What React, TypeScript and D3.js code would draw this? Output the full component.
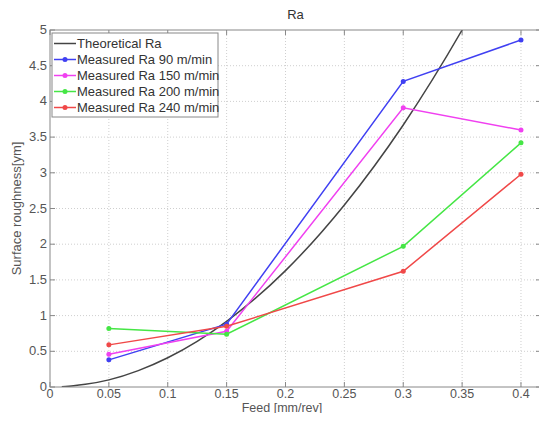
import React, { useEffect, useRef } from 'react';
import * as d3 from 'd3';

const feeds = [0.05, 0.15, 0.3, 0.4];
const ra90 = [0.38, 0.88, 4.28, 4.86];
const ra150 = [0.46, 0.78, 3.91, 3.6];
const ra200 = [0.82, 0.74, 1.97, 3.42];
const ra240 = [0.59, 0.85, 1.62, 2.98];

// theoretical curve
const theoFeed = [0.01, 0.02, 0.03, 0.05, 0.075, 0.1, 0.125, 0.15, 0.2, 0.25, 0.3, 0.35, 0.36];
const theoRa = [0.004, 0.016, 0.037, 0.1, 0.23, 0.41, 0.64, 0.92, 1.63, 2.55, 3.67, 5.0, 5.29];

const xTicks = [0, 0.05, 0.1, 0.15, 0.2, 0.25, 0.3, 0.35, 0.4];
const yTicks = [0, 0.5, 1, 1.5, 2, 2.5, 3, 3.5, 4, 4.5, 5];

const series = [
  { name: 'Measured Ra 90 m/min', values: ra90, color: '#4040f2' },
  { name: 'Measured Ra 150 m/min', values: ra150, color: '#f040f0' },
  { name: 'Measured Ra 200 m/min', values: ra200, color: '#45e645' },
  { name: 'Measured Ra 240 m/min', values: ra240, color: '#f04848' },
];

const App = () => {
  const ref = useRef<SVGSVGElement>(null);

  useEffect(() => {
    const width = 547;
    const height = 421;
    // the bottom ~9px of the window is not photographed, so the plot sits a bit higher
    const m = { left: 50, right: 6, top: 30, bottom: 34 };
    const font = 'Liberation Sans, Arial, sans-serif';
    const textColor = '#555';

    const x = d3.scaleLinear().domain([0, 0.417]).range([m.left, width - m.right]);
    const y = d3.scaleLinear().domain([0, 5]).range([height - m.bottom, m.top]);

    const svg = d3.select(ref.current)
      .attr('width', width)
      .attr('height', height)
      .style('display', 'block')
      .style('background', '#fff');

    svg.selectAll('*').remove();

    svg.append('defs').append('clipPath').attr('id', 'plot')
      .append('rect')
      .attr('x', m.left).attr('y', m.top)
      .attr('width', width - m.left - m.right)
      .attr('height', height - m.top - m.bottom);

    // grid
    const grid = svg.append('g').attr('stroke', '#cfcfcf').attr('stroke-dasharray', '1,2').attr('stroke-width', 1);
    xTicks.slice(1).forEach(t => {
      grid.append('line').attr('x1', x(t)).attr('x2', x(t)).attr('y1', y(0)).attr('y2', y(5));
    });
    yTicks.slice(1, -1).forEach(t => {
      grid.append('line').attr('x1', x(0)).attr('x2', x(0.417)).attr('y1', y(t)).attr('y2', y(t));
    });

    // ticks, inside on all four sides
    const ticks = svg.append('g').attr('stroke', '#888').attr('stroke-width', 1);
    xTicks.forEach(t => {
      ticks.append('line').attr('x1', x(t)).attr('x2', x(t)).attr('y1', y(0)).attr('y2', y(0) - 5);
      ticks.append('line').attr('x1', x(t)).attr('x2', x(t)).attr('y1', y(5)).attr('y2', y(5) + 5);
    });
    yTicks.forEach(t => {
      ticks.append('line').attr('x1', x(0)).attr('x2', x(0) + 5).attr('y1', y(t)).attr('y2', y(t));
      ticks.append('line').attr('x1', x(0.417)).attr('x2', x(0.417) - 5).attr('y1', y(t)).attr('y2', y(t));
    });

    // tick labels
    svg.append('g')
      .attr('font-family', font).attr('font-size', 12.5).attr('fill', textColor).attr('text-anchor', 'middle')
      .selectAll('text').data(xTicks).join('text')
      .attr('x', d => x(d)).attr('y', y(0) + 11)
      .text(d => d3.format('~g')(d));

    svg.append('g')
      .attr('font-family', font).attr('font-size', 13).attr('fill', textColor).attr('text-anchor', 'end')
      .selectAll('text').data(yTicks).join('text')
      .attr('x', x(0) - 3).attr('y', d => y(d) + 4)
      .text(d => d3.format('~g')(d));

    // lines
    const plot = svg.append('g').attr('clip-path', 'url(#plot)');
    const theo = d3.line<number>()
      .x((_, i) => x(theoFeed[i]))
      .y(d => y(d))
      .curve(d3.curveMonotoneX);
    plot.append('path')
      .attr('d', theo(theoRa))
      .attr('fill', 'none').attr('stroke', '#444').attr('stroke-width', 1.5);

    const line = d3.line<number>().x((_, i) => x(feeds[i])).y(d => y(d));
    series.forEach(s => {
      plot.append('path').attr('d', line(s.values))
        .attr('fill', 'none').attr('stroke', s.color).attr('stroke-width', 1.5);
      plot.selectAll(null).data(s.values).join('circle')
        .attr('cx', (_, i) => x(feeds[i])).attr('cy', d => y(d)).attr('r', 2.5)
        .attr('fill', s.color);
    });

    // box
    svg.append('rect')
      .attr('x', m.left).attr('y', m.top)
      .attr('width', width - m.left - m.right)
      .attr('height', height - m.top - m.bottom)
      .attr('fill', 'none').attr('stroke', '#888');

    // legend
    const lg = svg.append('g');
    lg.append('rect').attr('x', 52).attr('y', 33).attr('width', 166).attr('height', 84)
      .attr('fill', '#fff').attr('stroke', '#888');
    const entries = [{ name: 'Theoretical Ra', color: '#444', dot: false }, ...series.map(s => ({ name: s.name, color: s.color, dot: true }))];
    entries.forEach((e, i) => {
      const yy = 43.5 + i * 16;
      lg.append('line').attr('x1', 54).attr('x2', 76).attr('y1', yy).attr('y2', yy)
        .attr('stroke', e.color).attr('stroke-width', 1.5);
      if (e.dot) lg.append('circle').attr('cx', 65).attr('cy', yy).attr('r', 2.5).attr('fill', e.color);
      lg.append('text').attr('x', 77).attr('y', yy + 4.5)
        .attr('font-family', font).attr('font-size', 13).attr('fill', '#333')
        .text(e.name);
    });

    // titles
    svg.append('text').attr('x', (m.left + width - m.right) / 2).attr('y', 19)
      .attr('text-anchor', 'middle').attr('font-family', font).attr('font-size', 13).attr('fill', '#333')
      .text('Ra');
    svg.append('text').attr('x', 282).attr('y', 411.5)
      .attr('text-anchor', 'middle').attr('font-family', font).attr('font-size', 12.5).attr('fill', textColor)
      .text('Feed [mm/rev]');
    svg.append('text')
      .attr('transform', `translate(21,${(m.top + height - m.bottom) / 2}) rotate(-90)`)
      .attr('text-anchor', 'middle').attr('font-family', font).attr('font-size', 13).attr('fill', textColor)
      .text('Surface roughness[ym]');
  }, []);

  return (
    <div style={{ margin: -8 }}>
      <svg ref={ref} />
    </div>
  );
};

export default App;
